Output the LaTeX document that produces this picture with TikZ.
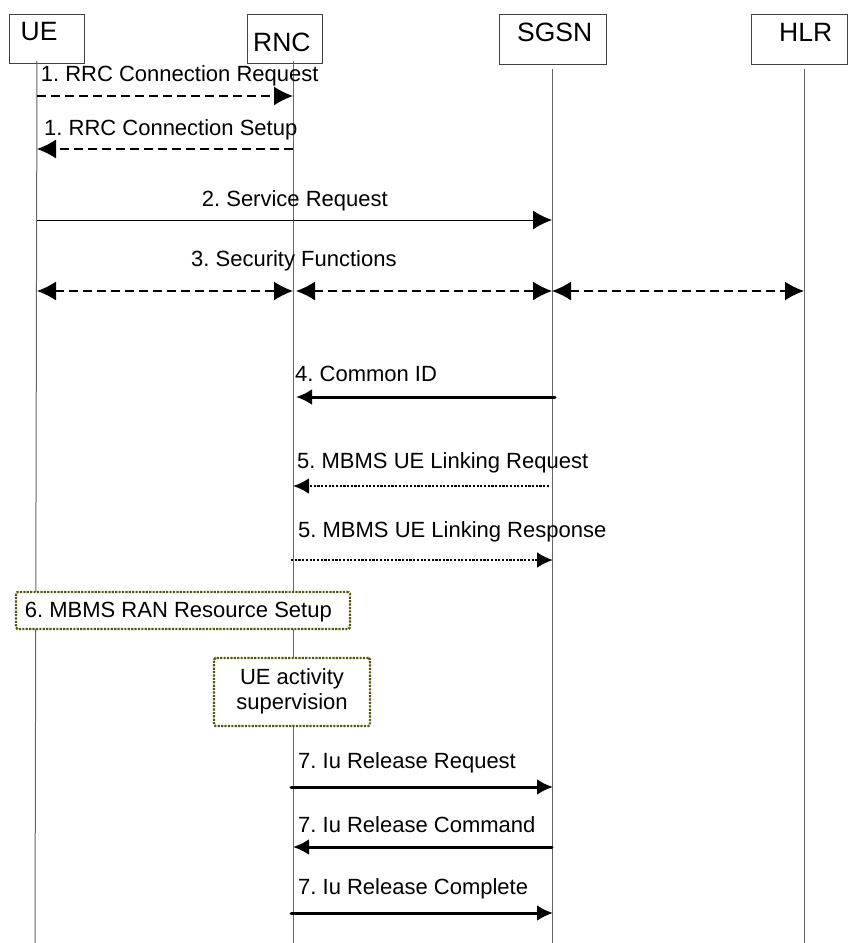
\documentclass[tikz,border=0pt]{standalone}
\usepackage{fontspec}
\setmainfont{Liberation Sans}
\usetikzlibrary{arrows.meta}
\definecolor{boxolive}{HTML}{555511}
\tikzset{
  x=1pt,y=-1pt,
  lab/.style={inner sep=0pt,anchor=base west,font=\fontsize{22}{25}\selectfont},
  head/.style={inner sep=0pt,anchor=base west,font=\fontsize{26.5}{30}\selectfont},
  actor/.style={draw=black!75,line width=0.8pt,fill=white,inner sep=0pt},
  life/.style={draw=black!60,line width=1pt},
  tip/.style={-{Latex[length=19pt,width=19pt]}},
  tipsmall/.style={-{Latex[length=16pt,width=16pt]}},
  both/.style={{Latex[length=19pt,width=19pt]}-{Latex[length=19pt,width=19pt]}},
  dashmsg/.style={line width=1.3pt,dash pattern=on 9pt off 5pt},
  plainmsg/.style={line width=1pt},
  thickmsg/.style={line width=3pt,line cap=round},
  dotmsg/.style={line width=2.6pt,dash pattern=on 2.2pt off 1.5pt},
  procbox/.style={draw=boxolive,line width=2.2pt,dash pattern=on 2.2pt off 1.2pt,rounded corners=1.5pt,fill=white,inner sep=0pt},
}
\begin{document}
\frenchspacing
\begin{tikzpicture}
\useasboundingbox (0,0) rectangle (847,943);
% actors
\node[actor,minimum width=75pt,minimum height=49pt] (ue) at (46.5,38.5) {};
\node[actor,minimum width=75pt,minimum height=49pt] (rnc) at (284.5,38.5) {};
\node[actor,minimum width=107pt,minimum height=50pt] (sgsn) at (552.5,39) {};
\node[actor,minimum width=96pt,minimum height=50pt] (hlr) at (799,39) {};
\node[head] (uet) at (20.5,40.7) {UE};
\node[head] (rnct) at (253,51) {RNC};
\node[head] (sgsnt) at (517,41.7) {SGSN};
\node[head] (hlrt) at (779,41.7) {HLR};
% lifeline ends
\coordinate (uetop) at (37,61);
\coordinate (uebot) at (35,943);
\coordinate (rnctop) at (293,61);
\coordinate (rncbot) at (293,943);
\coordinate (sgsntop) at (552,69);
\coordinate (sgsnbot) at (552,943);
\coordinate (hlrtop) at (804,69);
\coordinate (hlrbot) at (804,943);
\draw[life] (uetop) -- (uebot);
\draw[life] (rnctop) -- (rncbot);
\draw[life] (sgsntop) -- (sgsnbot);
\draw[life] (hlrtop) -- (hlrbot);
% message end points
\foreach \n/\y in {a/96,b/149,c/220,d/291}{
  \coordinate (ue\n) at (37,\y);
  \coordinate (rn\n) at (293,\y);
  \coordinate (sg\n) at (552,\y);
  \coordinate (hl\n) at (804,\y);
}
\coordinate (rnd2) at (296,291);
\coordinate (se) at (555,397); \coordinate (re) at (296,397);
\coordinate (sf) at (549,486); \coordinate (rf) at (293,486);
\coordinate (rg) at (291,560); \coordinate (sg) at (553,560);
\coordinate (rh) at (291,787); \coordinate (sh) at (553,787);
\coordinate (si) at (552,847); \coordinate (ri) at (293,847);
\coordinate (rj) at (291,913); \coordinate (sj) at (553,913);
\draw[dashmsg,tip] (uea) -- (rna);
\draw[dashmsg,tip] (rnb) -- (ueb);
\draw[plainmsg,tip] (uec) -- (sgc);
\draw[dashmsg,both] (ued) -- (rnd);
\draw[dashmsg,both] (rnd2) -- (sgd);
\draw[dashmsg,both] (sgd) -- (hld);
\draw[thickmsg,tipsmall] (se) -- (re);
\draw[dotmsg,tipsmall] (sf) -- (rf);
\draw[dotmsg,tipsmall] (rg) -- (sg);
\draw[thickmsg,tipsmall] (rh) -- (sh);
\draw[thickmsg,tipsmall] (si) -- (ri);
\draw[thickmsg,tipsmall] (rj) -- (sj);
% labels
\node[lab] (l1) at (40.7,81) {1. RRC Connection Request};
\node[lab] (l2) at (44,135) {1. RRC Connection Setup};
\node[lab] (l3) at (201.7,206) {2. Service Request};
\node[lab] (l4) at (191,266) {3. Security Functions};
\node[lab] (l5) at (295,381) {4. Common ID};
\node[lab] (l6) at (297,468) {5. MBMS UE Linking Request};
\node[lab] (l7) at (298,537) {5. MBMS UE Linking Response};
\node[lab] (l8) at (298,768) {7. Iu Release Request};
\node[lab] (l9) at (298,832) {7. Iu Release Command};
\node[lab] (l10) at (298,894) {7. Iu Release Complete};
% process boxes
\node[procbox,minimum width=334pt,minimum height=37pt] (ran) at (183,610.5) {};
\node[lab] (rant) at (24.7,617) {6. MBMS RAN Resource Setup};
\node[procbox,minimum width=156pt,minimum height=68pt] (act) at (292,692) {};
\node[lab,anchor=base] (act1) at (292,684) {UE activity};
\node[lab,anchor=base] (act2) at (292,709) {supervision};
\end{tikzpicture}
\end{document}
